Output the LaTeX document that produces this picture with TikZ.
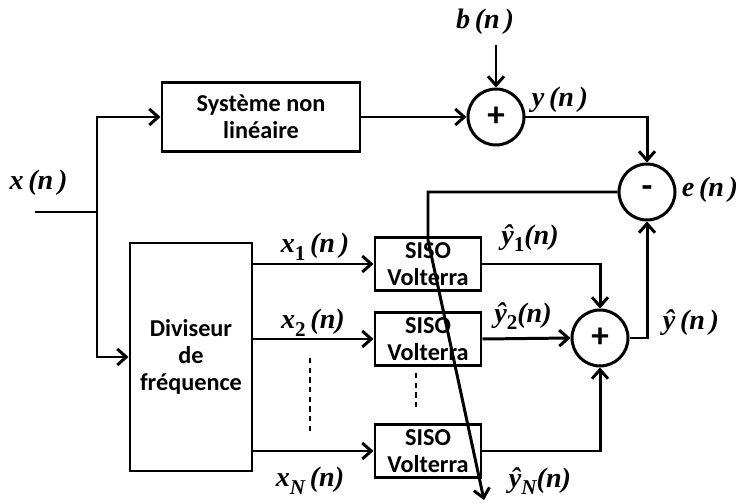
\documentclass[tikz,border=0pt]{standalone}
\usepackage{fontspec}
\setmainfont{Liberation Serif}
\newfontfamily\blockfont{Carlito}
\usetikzlibrary{arrows.meta}

\newcommand{\lab}[1]{\fontsize{16}{18}\selectfont\bfseries\itshape #1}
\newcommand{\sbs}[1]{\raisebox{-0.6ex}{\fontsize{12}{13}\selectfont #1}}

\begin{document}
\begin{tikzpicture}[line width = 1.7pt,
	block/.style = {draw, minimum width = 2.12cm, minimum height = 1.06cm, align = center, inner sep = 0pt,
		font = \blockfont\bfseries\fontsize{13.8}{15.4}\selectfont},
	sum/.style = {draw, circle, minimum size = 1.12cm, inner sep = 0pt, font = \blockfont\bfseries\fontsize{20}{20}\selectfont},
	arr/.style = {-{Straight Barb[length = 1.8mm, width = 3.2mm, line width = 1.7pt]}}]

	\useasboundingbox (0, 0) rectangle (14.72, 10.04);

	% blocks
	\node [block, minimum width = 3.96cm, minimum height = 1.38cm] (nl) at (5.22, 7.7) {Système non\\linéaire};
	\node [block, minimum width = 2.44cm, minimum height = 4.56cm] (div) at (3.82, 2.9) {Diviseur\\de\\fréquence};
	\node [block] (siso1) at (8.56, 4.76) {SISO\\Volterra};
	\node [block] (siso2) at (8.56, 3.26) {SISO\\Volterra};
	\node [block] (sisoN) at (8.56, 1.02) {SISO\\Volterra};

	\node [sum] (add) at (9.92, 7.7) {+};
	\node [sum] (err) at (12.94, 6.2) {-};
	\node [sum] (acc) at (12.0, 3.28) {+};

	% input and branching
	\coordinate (in) at (0.7, 5.8);
	\coordinate (split) at (1.94, 5.8);
	\coordinate (noise) at (9.92, 9.14);
	\node (xn) at (0.77, 6.38) {\lab{x\,(n\,)}};
	\node (bn) at (9.7, 9.6) {\lab{b\,(n\,)}};
	\node (yn) at (11.2, 8.04) {\lab{y\,(n\,)}};
	\node (en) at (14.2, 6.24) {\lab{e\,(n\,)}};

	\draw (in) -- (split);
	\draw [arr] (split) |- (nl.west);
	\draw [arr] (split) |- (div.west);
	\draw [arr] (nl.east) -- (add.west);
	\draw [arr] (noise) -- (add.north);
	\draw [arr] (add.east) -| (err.north);

	% error feedback
	\coordinate (fbtop) at (8.56, 6.2);
	\coordinate (fbbend) at (8.56, 5.24);
	\coordinate (fbtip) at (9.68, 0.04);
	\draw [arr] (err.west) -- (fbtop) -- (fbbend) -- (fbtip);

	% sub-bands
	\draw [arr] (div.east |- siso1) -- (siso1.west);
	\draw [arr] (div.east |- siso2) -- (siso2.west);
	\draw [arr] (div.east |- sisoN) -- (sisoN.west);
	\node (x1) at (6.3, 5.1) {\lab{x\sbs{\upshape 1}\,(n\,)}};
	\node (x2) at (6.26, 3.58) {\lab{x\sbs{\upshape 2}\,(n)}};
	\node (xN) at (6.2, 0.42) {\lab{x\sbs{N}\,(n)}};
	\draw [line width = 1.4pt, dash pattern = on 3pt off 2.5pt] (6.2, 2.88) -- (6.2, 1.38);
	\draw [line width = 1.4pt, dash pattern = on 3pt off 2.5pt] (8.32, 2.58) -- (8.32, 1.86);

	% outputs
	\draw [arr] (siso1.east) -| (acc.north);
	\draw [arr] (siso2.east) -- (acc.west);
	\draw [arr] (sisoN.east) -| (acc.south);
	\draw [arr] (acc.east) -| (err.south);
	\node (y1) at (10.6, 5.28) {\lab{ŷ\sbs{\upshape 1}(n)}};
	\node (y2) at (10.46, 3.72) {\lab{ŷ\sbs{\upshape 2}(n)}};
	\node (yN) at (10.8, 0.42) {\lab{ŷ\sbs{N}(n)}};
	\node (yhat) at (13.82, 3.58) {\lab{ŷ\,(n\,)}};

\end{tikzpicture}
\end{document}
